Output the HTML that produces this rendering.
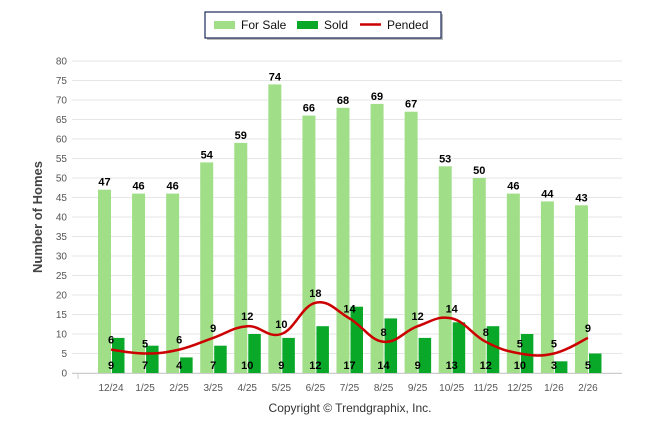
<!DOCTYPE html>
<html><head><meta charset="utf-8"><style>
body{margin:0;background:#fff;width:646px;height:434px;overflow:hidden;font-family:"Liberation Sans",sans-serif}
</style></head><body>
<svg id="c" width="646" height="434" xmlns="http://www.w3.org/2000/svg"></svg>
<script>
const categories=["12/24","1/25","2/25","3/25","4/25","5/25","6/25","7/25","8/25","9/25","10/25","11/25","12/25","1/26","2/26"];
const forSale=[47,46,46,54,59,74,66,68,69,67,53,50,46,44,43];
const sold=[9,7,4,7,10,9,12,17,14,9,13,12,10,3,5];
const pended=[6,5,6,9,12,10,18,14,8,12,14,8,5,5,9];
const yTicks=[0,5,10,15,20,25,30,35,40,45,50,55,60,65,70,75,80];

const svg=document.getElementById('c');
const NS="http://www.w3.org/2000/svg";
function mk(t,a,p){const e=document.createElementNS(NS,t);for(const k in a)e.setAttribute(k,a[k]);(p||svg).appendChild(e);return e;}
const y=v=>373-v*3.9;
const x=i=>111+i*34.07;

const grid=mk('g',{});


yTicks.forEach(t=>{
  mk('line',{x1:72,x2:622,y1:y(t),y2:y(t),stroke:'#e6e6e6','stroke-width':1},grid);
  const tx=mk('text',{x:67,y:y(t)+3.5,'text-anchor':'end','font-size':10,fill:'#555'});
  tx.textContent=t;
  
  
});
mk('line',{x1:72,x2:622,y1:373.5,y2:373.5,stroke:'#ccc'});
mk('line',{x1:78,x2:78,y1:373,y2:379,stroke:'#ccc'});

const yt=mk('text',{x:0,y:0,transform:'translate(42,217) rotate(-90)','text-anchor':'middle','font-size':13,'font-weight':'bold',fill:'#444'});
yt.textContent='Number of Homes';



categories.forEach((c,i)=>{
  const cx=x(i);
  const b1=mk('rect',{x:cx-13,y:y(forSale[i]),width:13,height:forSale[i]*3.9,fill:'#a0df88'});
  
  
  const b2=mk('rect',{x:cx+1,y:y(sold[i]),width:12.5,height:sold[i]*3.9,fill:'#0aa828'});
  
  
  const xl=mk('text',{x:cx,y:391,'text-anchor':'middle','font-size':10,fill:'#555'});
  xl.textContent=c;
  
  
});

// smooth pended line (monotone-ish cardinal spline)
const pts=pended.map((v,i)=>[x(i),y(v)]);
let d=`M${pts[0][0]},${pts[0][1]}`;
for(let i=0;i<pts.length-1;i++){
  const p0=pts[i-1]||pts[i],p1=pts[i],p2=pts[i+1],p3=pts[i+2]||p2;
  const t=0.2;
  const c1=[p1[0]+(p2[0]-p0[0])*t,p1[1]+(p2[1]-p0[1])*t];
  const c2=[p2[0]-(p3[0]-p1[0])*t,p2[1]-(p3[1]-p1[1])*t];
  d+=` C${c1[0]},${c1[1]} ${c2[0]},${c2[1]} ${p2[0]},${p2[1]}`;
}
const ln=mk('path',{d:d,fill:'none',stroke:'#cc0000','stroke-width':2.5});



categories.forEach((c,i)=>{
  const cx=x(i);
  const l1=mk('text',{x:cx-6.5,y:y(forSale[i])-4,'text-anchor':'middle','font-size':11,'font-weight':'bold',fill:'#000'});
  l1.textContent=forSale[i];
  
  
  const l2=mk('text',{x:cx,y:369,'text-anchor':'middle','font-size':11,'font-weight':'bold',fill:'#000'});
  l2.textContent=sold[i];
  
  
  const l3=mk('text',{x:cx,y:y(pended[i])-6,'text-anchor':'middle','font-size':11,'font-weight':'bold',fill:'#000'});
  l3.textContent=pended[i];
  
  
});

// legend
const lg=mk('g',{});


mk('rect',{x:207,y:14,width:236,height:26,fill:'#bbb'},lg);
mk('rect',{x:205,y:12,width:236,height:26,fill:'#fff',stroke:'#1a2a5a','stroke-width':1.2},lg);
const items=[['For Sale','#a0df88',214,'rect'],['Sold','#0aa828',297,'rect'],['Pended','#cc0000',360,'line']];
items.forEach(it=>{
  const g=mk('g',{},lg);
  
  
  if(it[3]==='rect') mk('rect',{x:it[2],y:21,width:21,height:8,fill:it[1]},g);
  else mk('line',{x1:it[2],x2:it[2]+21,y1:24.5,y2:24.5,stroke:it[1],'stroke-width':2.5},g);
  const t=mk('text',{x:it[2]+27,y:29,'font-size':12,fill:'#111'},g);
  t.textContent=it[0];
});

const cp=mk('text',{x:350,y:412,'text-anchor':'middle','font-size':12,fill:'#333'});
cp.textContent='Copyright © Trendgraphix, Inc.';


</script>
</body></html>
